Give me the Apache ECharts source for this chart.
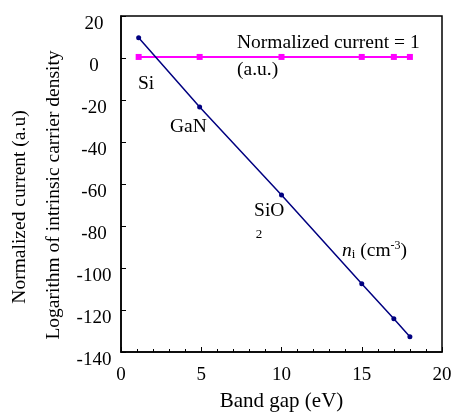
<!DOCTYPE html>
<html>
<head>
<meta charset="utf-8">
<script src="https://cdn.jsdelivr.net/npm/echarts@6/dist/echarts.min.js"></script>
<style>
  html, body { margin: 0; padding: 0; background: #fff; }
  #main { width: 456px; height: 417px; }
</style>
</head>
<body>
<div id="main"></div>
<script>
// band gap (eV) of each material point
var bandGap = [1.1, 4.9, 10, 15, 17, 18];
// log of intrinsic carrier density
var logNi = [9.6, -23.3, -65.2, -107.5, -124.2, -132.7];
// normalized current (log), flat at 0
var normCurrent = [0.5, 0.5, 0.5, 0.5, 0.5, 0.5];

var xTicks = [0, 5, 10, 15, 20];
var yTicks = [-140, -120, -100, -80, -60, -40, -20, 0, 20];

// text notes placed in data coordinates
var notes = [
  { x: 1.06, y: -12.1, text: 'Si' },
  { x: 3.05, y: -32.8, text: 'GaN' },
  { x: 8.29, y: -73, text: 'SiO' },
  { x: 8.4, y: -84.2, text: '2', small: true },
  { x: 13.77, y: -91.8, text: '{it|n}{sub|i} (cm{sup|-3})' },
  { x: 7.23, y: 7.3, text: 'Normalized current = 1' },
  { x: 7.23, y: -5.5, text: '(a.u.)' }
];

var font = 'Liberation Serif';
var chart = echarts.init(document.getElementById('main'));

var option = {
  animation: false,
  grid: {
    left: 121, right: 14, top: 16, bottom: 62,
    show: true, borderColor: '#000', borderWidth: 1.5
  },
  xAxis: {
    type: 'value',
    min: xTicks[0], max: xTicks[xTicks.length - 1], interval: 5,
    name: 'Band gap (eV)',
    nameLocation: 'middle', nameGap: 39,
    nameTextStyle: { fontFamily: font, fontSize: 21, color: '#000' },
    axisLine: { onZero: false, lineStyle: { color: '#000', width: 1.5 } },
    axisTick: { inside: true, length: 5, lineStyle: { color: '#000' } },
    minorTick: { show: true, splitNumber: 5, length: 3, lineStyle: { color: '#000' } },
    axisLabel: { fontFamily: font, fontSize: 19, color: '#000', margin: 14 },
    splitLine: { show: false }
  },
  yAxis: {
    type: 'value',
    min: yTicks[0], max: yTicks[yTicks.length - 1], interval: 20,
    axisLine: { show: true, onZero: false, lineStyle: { color: '#000', width: 1.5 } },
    axisTick: { show: true, inside: true, length: 5, lineStyle: { color: '#000' } },
    axisLabel: {
      fontFamily: font, fontSize: 19, color: '#000',
      margin: 27, align: 'center', verticalAlign: 'top', lineHeight: 16
    },
    splitLine: { show: false }
  },
  series: [
    {
      type: 'line',
      data: bandGap.map(function (x, i) { return [x, normCurrent[i]]; }),
      color: '#ff00ff',
      symbol: 'rect', symbolSize: 6,
      lineStyle: { width: 2 },
      z: 2
    },
    {
      type: 'line',
      data: bandGap.map(function (x, i) { return [x, logNi[i]]; }),
      color: '#000080',
      symbol: 'circle', symbolSize: 5,
      lineStyle: { width: 1.5 },
      z: 3
    }
  ]
};
chart.setOption(option);

var g = notes.map(function (n) {
  var p = chart.convertToPixel({ gridIndex: 0 }, [n.x, n.y]);
  return {
    type: 'text', x: p[0], y: p[1],
    style: {
      text: n.text,
      fontFamily: font, fontSize: n.small ? 13 : 19.5, fill: '#000',
      textAlign: 'left', textVerticalAlign: 'middle',
      rich: {
        it: { fontFamily: font, fontSize: 19.5, fontStyle: 'italic' },
        sub: { fontFamily: font, fontSize: 13, verticalAlign: 'bottom', padding: [8, 0, 0, 0] },
        sup: { fontFamily: font, fontSize: 12, verticalAlign: 'top', padding: [0, 0, 8, 0] }
      }
    }
  };
});

// two line y title
g.push({
  type: 'text', x: 20, y: 207, rotation: Math.PI / 2,
  style: { text: 'Normalized current (a.u)', fontFamily: font, fontSize: 19.5, fill: '#000',
    textAlign: 'center', textVerticalAlign: 'middle' }
});
g.push({
  type: 'text', x: 54, y: 195, rotation: Math.PI / 2,
  style: { text: 'Logarithm of intrinsic carrier density', fontFamily: font, fontSize: 19.5, fill: '#000',
    textAlign: 'center', textVerticalAlign: 'middle' }
});

chart.setOption({ graphic: g });
</script>
</body>
</html>
